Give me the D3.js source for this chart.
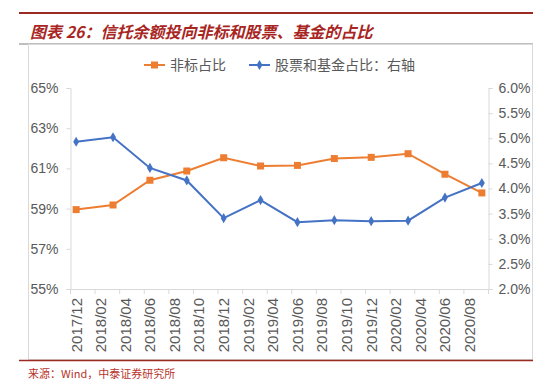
<!DOCTYPE html>
<html>
<head>
<meta charset="utf-8">
<script src="https://cdn.jsdelivr.net/npm/d3@7"></script>
<style>
  body { margin: 0; background: #fff; }
  text { font-family: "Liberation Sans Narrow", "Liberation Sans", Arial, sans-serif; }
  .cjk { font-family: "Noto Sans CJK SC", sans-serif; }
</style>
</head>
<body>
<script>
// quarterly observations
const quarters = ['2017/12', '2018/03', '2018/06', '2018/09', '2018/12', '2019/03',
                  '2019/06', '2019/09', '2019/12', '2020/03', '2020/06', '2020/09'];
const nonStandard = [58.95, 59.18, 60.41, 60.87, 61.53, 61.12, 61.15, 61.49, 61.55, 61.73, 60.71, 59.78];
const stockFund = [4.93, 5.02, 4.41, 4.16, 3.41, 3.77, 3.33, 3.37, 3.35, 3.36, 3.82, 4.11];

const tickLabels = ['2017/12', '2018/02', '2018/04', '2018/06', '2018/08', '2018/10', '2018/12',
                    '2019/02', '2019/04', '2019/06', '2019/08', '2019/10', '2019/12',
                    '2020/02', '2020/04', '2020/06', '2020/08'];
const leftTicks = [55, 57, 59, 61, 63, 65];
const rightTicks = [2.0, 2.5, 3.0, 3.5, 4.0, 4.5, 5.0, 5.5, 6.0];

const width = 550, height = 388;
const plot = { left: 70, right: 488, top: 88, bottom: 289 };
const orange = '#ED7D31', blue = '#4472C4';
const axisColor = '#D9D9D9', textColor = '#595959';

const svg = d3.select('body').append('svg')
    .attr('width', width)
    .attr('height', height);

// header / frame
svg.append('line')
    .attr('x1', 19).attr('x2', 533).attr('y1', 13).attr('y2', 13)
    .attr('stroke', '#9B2B22').attr('stroke-width', 2);
svg.append('text').attr('class', 'cjk')
    .attr('x', 30).attr('y', 38)
    .attr('font-size', 16).attr('font-weight', 'bold').attr('font-style', 'italic')
    .attr('fill', '#A8261F')
    .text('图表 26：信托余额投向非标和股票、基金的占比');
svg.append('line')
    .attr('x1', 19).attr('x2', 533).attr('y1', 44).attr('y2', 44)
    .attr('stroke', '#7F7F7F').attr('stroke-width', 1);
svg.append('rect')
    .attr('x', 28.5).attr('y', 44.5).attr('width', 504).attr('height', 315)
    .attr('fill', 'none').attr('stroke', axisColor);
svg.append('line')
    .attr('x1', 19).attr('x2', 533).attr('y1', 360.5).attr('y2', 360.5)
    .attr('stroke', '#9B2B22').attr('stroke-width', 1.5);
svg.append('text').attr('class', 'cjk')
    .attr('x', 28).attr('y', 378)
    .attr('font-size', 11).attr('fill', '#B8342A')
    .text('来源：Wind，中泰证券研究所');

// scales
const parse = d3.timeParse('%Y/%m');
const months = d3.timeMonths(parse(tickLabels[0]), d3.timeMonth.offset(parse(quarters[quarters.length - 1]), 1));
const key = d3.timeFormat('%Y/%m');
const x = d3.scaleBand()
    .domain(months.map(key))
    .range([plot.left, plot.right]);
const bw = x.bandwidth();
const yL = d3.scaleLinear().domain([55, 65]).range([plot.bottom, plot.top]);
const yR = d3.scaleLinear().domain([2, 6]).range([plot.bottom, plot.top]);

// left axis
const gL = svg.append('g')
    .attr('transform', `translate(${plot.left + 0.5},0)`)
    .call(d3.axisLeft(yL).tickValues(leftTicks).tickSize(4).tickPadding(8).tickFormat(d => d + '%'));
// right axis
const gR = svg.append('g')
    .attr('transform', `translate(${plot.right + 0.5},0)`)
    .call(d3.axisRight(yR).tickValues(rightTicks).tickSize(4).tickPadding(6).tickFormat(d3.format('.1%')).tickFormat(d => d.toFixed(1) + '%'));
[gL, gR].forEach(g => {
    g.select('.domain').attr('stroke', axisColor);
    g.selectAll('.tick line').attr('stroke', axisColor);
    g.selectAll('.tick text').attr('fill', textColor).attr('font-size', 14)
        .style('font-family', '"Liberation Sans Narrow", "Liberation Sans", Arial, sans-serif');
});

// bottom axis
const gB = svg.append('g');
gB.append('line')
    .attr('x1', plot.left).attr('x2', plot.right)
    .attr('y1', plot.bottom + 0.5).attr('y2', plot.bottom + 0.5)
    .attr('stroke', axisColor);
gB.selectAll('.tk').data(tickLabels.concat(['end']))
    .enter().append('line')
    .attr('x1', d => (d === 'end' ? plot.right : x(d)) + 0.5)
    .attr('x2', d => (d === 'end' ? plot.right : x(d)) + 0.5)
    .attr('y1', plot.bottom).attr('y2', plot.bottom + 5)
    .attr('stroke', axisColor);
gB.selectAll('.lbl').data(tickLabels)
    .enter().append('text')
    .attr('transform', d => `translate(${x(d) + bw / 2},298) rotate(-90)`)
    .attr('text-anchor', 'end')
    .attr('dy', '0.36em')
    .attr('font-size', 15)
    .attr('fill', textColor)
    .text(d => d);

const qx = d => x(d) + bw / 2;

// series: non-standard (left axis)
const lineL = d3.line().x((d, i) => qx(quarters[i])).y(d => yL(d));
svg.append('path').datum(nonStandard)
    .attr('d', lineL).attr('fill', 'none')
    .attr('stroke', orange).attr('stroke-width', 2);
svg.selectAll('.sq').data(nonStandard)
    .enter().append('rect')
    .attr('x', (d, i) => qx(quarters[i]) - 3.5)
    .attr('y', d => yL(d) - 3.5)
    .attr('width', 7).attr('height', 7)
    .attr('fill', orange);

// series: stocks & funds (right axis)
const lineR = d3.line().x((d, i) => qx(quarters[i])).y(d => yR(d));
svg.append('path').datum(stockFund)
    .attr('d', lineR).attr('fill', 'none')
    .attr('stroke', blue).attr('stroke-width', 2);
const diamond = d3.symbol().type(d3.symbolDiamond).size(30);
svg.selectAll('.dm').data(stockFund)
    .enter().append('path')
    .attr('d', diamond)
    .attr('transform', (d, i) => `translate(${qx(quarters[i])},${yR(d)})`)
    .attr('fill', blue);

// legend
const legend = [
    { name: '非标占比', color: orange, x: 144, marker: 'square' },
    { name: '股票和基金占比：右轴', color: blue, x: 249, marker: 'diamond' }
];
const lg = svg.selectAll('.lg').data(legend).enter().append('g')
    .attr('transform', d => `translate(${d.x},65)`);
lg.append('line').attr('x1', 0).attr('x2', 21).attr('y1', 0).attr('y2', 0)
    .attr('stroke', d => d.color).attr('stroke-width', 2);
lg.each(function (d) {
    const g = d3.select(this);
    if (d.marker === 'square') {
        g.append('rect').attr('x', 7).attr('y', -3.5).attr('width', 7).attr('height', 7).attr('fill', d.color);
    } else {
        g.append('path').attr('d', diamond).attr('transform', 'translate(10.5,0)').attr('fill', d.color);
    }
});
lg.append('text').attr('class', 'cjk')
    .attr('x', 26).attr('dy', '0.35em')
    .attr('font-size', 14).attr('fill', textColor)
    .text(d => d.name);
</script>
</body>
</html>
